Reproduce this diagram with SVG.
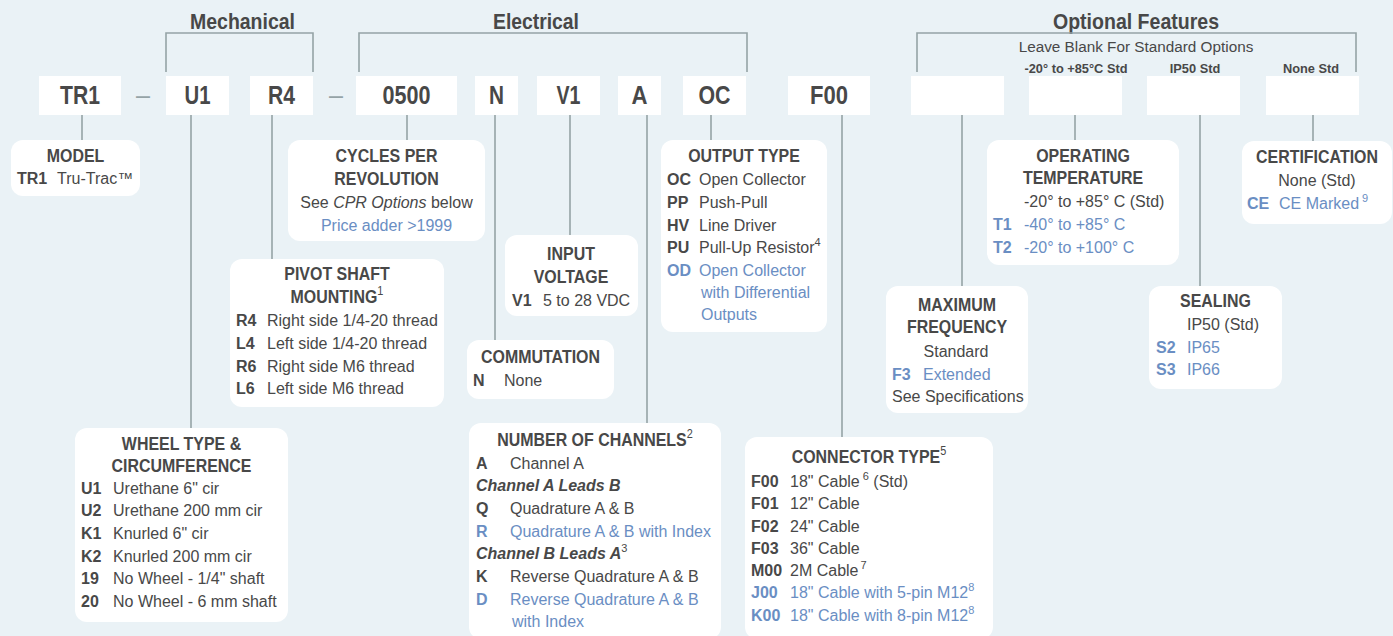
<svg xmlns="http://www.w3.org/2000/svg" width="1393" height="636" viewBox="0 0 1393 636">
<style>
text{font-family:"Liberation Sans",Arial,sans-serif;fill:#484848}
.code{fill:#fff}
.ct{font-size:25px;font-weight:bold;text-anchor:middle}
.dash{font-size:25px;fill:#95a3a6;text-anchor:middle}
.box{fill:#fff}
.h{font-size:19px;font-weight:bold;text-anchor:middle}
.t{font-size:16px}
.tc{font-size:16px;text-anchor:middle}
.b{font-size:16px;font-weight:bold}
.bi{font-size:16px;font-weight:bold;font-style:italic}
.blue{fill:#6a8ec3}
.sup{font-size:11px;font-weight:normal;font-style:normal}
.hsup{font-size:13px;font-weight:normal}
.title{font-size:22px;font-weight:bold;text-anchor:middle}
.sub{font-size:15.3px;text-anchor:middle}
.std{font-size:12.8px;font-weight:bold;text-anchor:middle}
.ln{stroke:#95a3a6;stroke-width:1.6;fill:none}
</style>
<rect width="1393" height="636" fill="#eaf2f6"/>

<g id="headings">
<text class="title" x="242.5" y="29" textLength="105" lengthAdjust="spacingAndGlyphs">Mechanical</text>
<text class="title" x="536" y="29" textLength="86" lengthAdjust="spacingAndGlyphs">Electrical</text>
<text class="title" x="1136" y="29" textLength="166" lengthAdjust="spacingAndGlyphs">Optional Features</text>
<text class="sub" x="1136" y="52">Leave Blank For Standard Options</text>
<text class="std" x="1076" y="73">-20° to +85°C Std</text>
<text class="std" x="1195" y="73">IP50 Std</text>
<text class="std" x="1311" y="73">None Std</text>
</g>

<g id="connectors">
<path class="ln" d="M166,72V33H313V72"/>
<path class="ln" d="M359,72V33H747V72"/>
<path class="ln" d="M917,72V33H1356V72"/>
<line class="ln" x1="82" y1="115" x2="82" y2="140"/>
<line class="ln" x1="191" y1="115" x2="191" y2="428"/>
<line class="ln" x1="272" y1="115" x2="272" y2="259"/>
<line class="ln" x1="407" y1="115" x2="407" y2="140"/>
<line class="ln" x1="495" y1="115" x2="495" y2="340"/>
<line class="ln" x1="570" y1="115" x2="570" y2="235"/>
<line class="ln" x1="647" y1="115" x2="647" y2="423"/>
<line class="ln" x1="711" y1="115" x2="711" y2="140"/>
<line class="ln" x1="842" y1="115" x2="842" y2="437"/>
<line class="ln" x1="962" y1="115" x2="962" y2="286"/>
<line class="ln" x1="1075" y1="115" x2="1075" y2="140"/>
<line class="ln" x1="1200" y1="115" x2="1200" y2="286"/>
<line class="ln" x1="1313" y1="115" x2="1313" y2="141"/>
</g>

<g id="code-TR1"><rect class="code" x="39" y="76" width="82" height="39"/><text class="ct" x="80" y="104" textLength="40" lengthAdjust="spacingAndGlyphs">TR1</text></g>
<g id="dash1"><text class="dash" x="143" y="104" textLength="14" lengthAdjust="spacingAndGlyphs">–</text></g>
<g id="code-U1"><rect class="code" x="166" y="76" width="63" height="39"/><text class="ct" x="197.5" y="104" textLength="26" lengthAdjust="spacingAndGlyphs">U1</text></g>
<g id="code-R4"><rect class="code" x="250" y="76" width="63" height="39"/><text class="ct" x="281.5" y="104" textLength="27" lengthAdjust="spacingAndGlyphs">R4</text></g>
<g id="dash2"><text class="dash" x="336" y="104" textLength="14" lengthAdjust="spacingAndGlyphs">–</text></g>
<g id="code-0500"><rect class="code" x="356" y="76" width="101" height="39"/><text class="ct" x="406.5" y="104" textLength="48" lengthAdjust="spacingAndGlyphs">0500</text></g>
<g id="code-N"><rect class="code" x="475" y="76" width="43" height="39"/><text class="ct" x="496.5" y="104" textLength="15" lengthAdjust="spacingAndGlyphs">N</text></g>
<g id="code-V1"><rect class="code" x="537" y="76" width="63" height="39"/><text class="ct" x="568.5" y="104" textLength="24" lengthAdjust="spacingAndGlyphs">V1</text></g>
<g id="code-A"><rect class="code" x="618" y="76" width="43" height="39"/><text class="ct" x="639.5" y="104" textLength="16" lengthAdjust="spacingAndGlyphs">A</text></g>
<g id="code-OC"><rect class="code" x="683" y="76" width="63" height="39"/><text class="ct" x="714.5" y="104" textLength="32" lengthAdjust="spacingAndGlyphs">OC</text></g>
<g id="code-F00"><rect class="code" x="788" y="76" width="82" height="39"/><text class="ct" x="829" y="104" textLength="38" lengthAdjust="spacingAndGlyphs">F00</text></g>
<g id="code-freq"><rect class="code" x="911" y="76" width="93" height="39"/></g>
<g id="code-temp"><rect class="code" x="1029" y="76" width="93" height="39"/></g>
<g id="code-seal"><rect class="code" x="1147" y="76" width="93" height="39"/></g>
<g id="code-cert"><rect class="code" x="1266" y="76" width="93" height="39"/></g>

<g id="model">
<rect class="box" x="11" y="140" width="129" height="56" rx="12"/>
<text class="h" transform="translate(75.5 162) scale(.84 1)">MODEL</text>
<text class="b" x="17" y="184">TR1</text><text class="t" x="57" y="184">Tru-Trac™</text>
</g>

<g id="cpr">
<rect class="box" x="288" y="140" width="197" height="101" rx="12"/>
<text class="h" transform="translate(386.5 162) scale(.84 1)">CYCLES PER</text>
<text class="h" transform="translate(386.5 185) scale(.84 1)">REVOLUTION</text>
<text class="tc" x="386.5" y="208">See <tspan font-style="italic">CPR Options</tspan> below</text>
<text class="tc blue" x="386.5" y="231">Price adder &gt;1999</text>
</g>

<g id="pivot">
<rect class="box" x="230" y="259" width="214" height="148" rx="12"/>
<text class="h" transform="translate(337 280) scale(.84 1)">PIVOT SHAFT</text>
<text class="h" transform="translate(337 303) scale(.84 1)">MOUNTING<tspan class="hsup" dy="-8">1</tspan></text>
<text class="b" x="236" y="326">R4</text><text class="t" x="267" y="326">Right side 1/4-20 thread</text>
<text class="b" x="236" y="349">L4</text><text class="t" x="267" y="349">Left side 1/4-20 thread</text>
<text class="b" x="236" y="372">R6</text><text class="t" x="267" y="372">Right side M6 thread</text>
<text class="b" x="236" y="394">L6</text><text class="t" x="267" y="394">Left side M6 thread</text>
</g>

<g id="wheel">
<rect class="box" x="75" y="428" width="213" height="194" rx="12"/>
<text class="h" transform="translate(181.5 450) scale(.84 1)">WHEEL TYPE &amp;</text>
<text class="h" transform="translate(181.5 472) scale(.84 1)">CIRCUMFERENCE</text>
<text class="b" x="81" y="494">U1</text><text class="t" x="113" y="494">Urethane 6" cir</text>
<text class="b" x="81" y="516">U2</text><text class="t" x="113" y="516">Urethane 200 mm cir</text>
<text class="b" x="81" y="539">K1</text><text class="t" x="113" y="539">Knurled 6" cir</text>
<text class="b" x="81" y="562">K2</text><text class="t" x="113" y="562">Knurled 200 mm cir</text>
<text class="b" x="81" y="584">19</text><text class="t" x="113" y="584">No Wheel - 1/4" shaft</text>
<text class="b" x="81" y="607">20</text><text class="t" x="113" y="607">No Wheel - 6 mm shaft</text>
</g>

<g id="voltage">
<rect class="box" x="505" y="235" width="133" height="81" rx="12"/>
<text class="h" transform="translate(571 260) scale(.84 1)">INPUT</text>
<text class="h" transform="translate(571 283) scale(.84 1)">VOLTAGE</text>
<text class="b" x="512" y="306">V1</text><text class="t" x="543" y="306">5 to 28 VDC</text>
</g>

<g id="commutation">
<rect class="box" x="467" y="340" width="147" height="59" rx="12"/>
<text class="h" transform="translate(540.5 363) scale(.84 1)">COMMUTATION</text>
<text class="b" x="473" y="386">N</text><text class="t" x="504" y="386">None</text>
</g>

<g id="output">
<rect class="box" x="661" y="140" width="166" height="192" rx="12"/>
<text class="h" transform="translate(744 162) scale(.84 1)">OUTPUT TYPE</text>
<text class="b" x="667" y="185">OC</text><text class="t" x="699" y="185">Open Collector</text>
<text class="b" x="667" y="208">PP</text><text class="t" x="699" y="208">Push-Pull</text>
<text class="b" x="667" y="231">HV</text><text class="t" x="699" y="231">Line Driver</text>
<text class="b" x="667" y="253">PU</text><text class="t" x="699" y="253">Pull-Up Resistor<tspan class="sup" dy="-7">4</tspan></text>
<text class="b blue" x="667" y="276">OD</text><text class="t blue" x="699" y="276">Open Collector</text>
<text class="t blue" x="701" y="298">with Differential</text>
<text class="t blue" x="701" y="320">Outputs</text>
</g>

<g id="channels">
<rect class="box" x="469" y="423" width="252" height="216" rx="12"/>
<text class="h" transform="translate(595 446) scale(.84 1)">NUMBER OF CHANNELS<tspan class="hsup" dy="-8">2</tspan></text>
<text class="b" x="476" y="469">A</text><text class="t" x="510" y="469">Channel A</text>
<text class="bi" x="476" y="491">Channel A Leads B</text>
<text class="b" x="476" y="514">Q</text><text class="t" x="510" y="514">Quadrature A &amp; B</text>
<text class="b blue" x="476" y="537">R</text><text class="t blue" x="510" y="537">Quadrature A &amp; B with Index</text>
<text class="bi" x="476" y="559">Channel B Leads A<tspan class="sup" dy="-7">3</tspan></text>
<text class="b" x="476" y="582">K</text><text class="t" x="510" y="582">Reverse Quadrature A &amp; B</text>
<text class="b blue" x="476" y="605">D</text><text class="t blue" x="510" y="605">Reverse Quadrature A &amp; B</text>
<text class="t blue" x="512" y="627">with Index</text>
</g>

<g id="connector">
<rect class="box" x="745" y="437" width="248" height="202" rx="12"/>
<text class="h" transform="translate(869 463) scale(.84 1)">CONNECTOR TYPE<tspan class="hsup" dy="-8">5</tspan></text>
<text class="b" x="751" y="487">F00</text><text class="t" x="790" y="487">18" Cable<tspan class="sup" dx="3" dy="-7">6</tspan><tspan dy="7">  (Std)</tspan></text>
<text class="b" x="751" y="509">F01</text><text class="t" x="790" y="509">12" Cable</text>
<text class="b" x="751" y="532">F02</text><text class="t" x="790" y="532">24" Cable</text>
<text class="b" x="751" y="554">F03</text><text class="t" x="790" y="554">36" Cable</text>
<text class="b" x="751" y="576">M00</text><text class="t" x="790" y="576">2M Cable<tspan class="sup" dx="2" dy="-7">7</tspan></text>
<text class="b blue" x="751" y="598">J00</text><text class="t blue" x="790" y="598">18" Cable with 5-pin M12<tspan class="sup" dy="-7">8</tspan></text>
<text class="b blue" x="751" y="621">K00</text><text class="t blue" x="790" y="621">18" Cable with 8-pin M12<tspan class="sup" dy="-7">8</tspan></text>
</g>

<g id="temperature">
<rect class="box" x="987" y="140" width="192" height="125" rx="12"/>
<text class="h" transform="translate(1083 162) scale(.84 1)">OPERATING</text>
<text class="h" transform="translate(1083 184) scale(.84 1)">TEMPERATURE</text>
<text class="t" x="1024" y="207">-20° to +85° C (Std)</text>
<text class="b blue" x="993" y="230">T1</text><text class="t blue" x="1024" y="230">-40° to +85° C</text>
<text class="b blue" x="993" y="253">T2</text><text class="t blue" x="1024" y="253">-20° to +100° C</text>
</g>

<g id="frequency">
<rect class="box" x="886" y="286" width="142" height="127" rx="12"/>
<text class="h" transform="translate(957 311) scale(.84 1)">MAXIMUM</text>
<text class="h" transform="translate(957 333) scale(.84 1)">FREQUENCY</text>
<text class="tc" x="956" y="357">Standard</text>
<text class="b blue" x="892" y="380">F3</text><text class="t blue" x="923" y="380">Extended</text>
<text class="t" x="892" y="402">See Specifications</text>
</g>

<g id="sealing">
<rect class="box" x="1149" y="286" width="133" height="103" rx="12"/>
<text class="h" transform="translate(1215.5 307) scale(.84 1)">SEALING</text>
<text class="t" x="1187" y="330">IP50 (Std)</text>
<text class="b blue" x="1156" y="353">S2</text><text class="t blue" x="1187" y="353">IP65</text>
<text class="b blue" x="1156" y="375">S3</text><text class="t blue" x="1187" y="375">IP66</text>
</g>

<g id="certification">
<rect class="box" x="1242" y="141" width="150" height="83" rx="12"/>
<text class="h" transform="translate(1317 163) scale(.84 1)">CERTIFICATION</text>
<text class="tc" x="1317" y="186">None (Std)</text>
<text class="b blue" x="1247" y="209">CE</text><text class="t blue" x="1279" y="209">CE Marked<tspan class="sup" dx="3" dy="-7">9</tspan></text>
</g>
</svg>
